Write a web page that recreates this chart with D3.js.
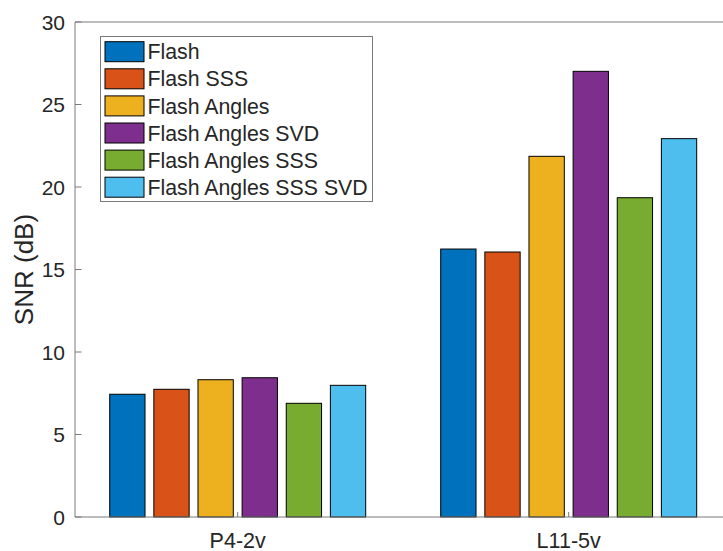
<!DOCTYPE html>
<html lang="en">
<head>
    <meta charset="UTF-8">
    <title>SNR by probe</title>
    <style>
        body { margin: 0; background: #fff; }
        svg text { font-family: "Liberation Sans", Arial, sans-serif; fill: #262626; }
        .bar { stroke: #000; stroke-width: 1px; }
        .axis-line { stroke: #7a7a7a; stroke-width: 1px; fill: none; }
    </style>
</head>
<body>
    <svg width="723" height="551"></svg>

    <script src="https://d3js.org/d3.v7.min.js"></script>
    <script>
        // data
        const probes = ["P4-2v", "L11-5v"];
        const methods = ["Flash", "Flash SSS", "Flash Angles", "Flash Angles SVD", "Flash Angles SSS", "Flash Angles SSS SVD"];
        const snrP4 = [7.44, 7.74, 8.32, 8.44, 6.89, 7.98];
        const snrL11 = [16.24, 16.06, 21.86, 27.01, 19.35, 22.93];
        const colors = ["#0072BD", "#D95319", "#EDB120", "#7E2F8E", "#77AC30", "#4DBEEE"];
        const yTicks = [0, 5, 10, 15, 20, 25, 30];

        const values = [snrP4, snrL11];

        const svg = d3.select("svg");
        const plotLeft = 75, plotTop = 22, plotBottom = 517, plotRight = 723;

        const x = d3.scaleLinear().domain([1, 2]).range([237.7, 568.7]);
        const y = d3.scaleLinear().domain([0, 30]).range([plotBottom, plotTop]);

        const pitch = 0.8 / methods.length;   // group width split into slots
        const barW = pitch * 0.8;

        // bars
        const groups = svg.append("g")
            .selectAll("g")
            .data(probes)
            .enter().append("g");

        groups.selectAll("rect")
            .data((p, gi) => values[gi].map((v, i) => ({ v, i, gi })))
            .enter().append("rect")
            .attr("class", "bar")
            .attr("x", d => x(d.gi + 1 + (d.i - 2.5) * pitch - barW / 2))
            .attr("width", d => x(barW) - x(0))
            .attr("y", d => y(d.v))
            .attr("height", d => y(0) - y(d.v))
            .attr("fill", d => colors[d.i]);

        // axes box (left, bottom, top)
        svg.append("line").attr("class", "axis-line")
            .attr("x1", plotLeft).attr("x2", plotLeft).attr("y1", plotTop).attr("y2", plotBottom);
        svg.append("line").attr("class", "axis-line")
            .attr("x1", plotLeft).attr("x2", plotRight).attr("y1", plotBottom).attr("y2", plotBottom);
        svg.append("line").attr("class", "axis-line")
            .attr("x1", plotLeft).attr("x2", plotRight).attr("y1", plotTop).attr("y2", plotTop);

        // y ticks
        const yAxis = svg.append("g");
        yAxis.selectAll("line")
            .data(yTicks)
            .enter().append("line")
            .attr("class", "axis-line")
            .attr("x1", plotLeft).attr("x2", plotLeft + 6.5)
            .attr("y1", d => y(d)).attr("y2", d => y(d));
        yAxis.selectAll("text")
            .data(yTicks)
            .enter().append("text")
            .attr("x", 65)
            .attr("y", d => y(d))
            .attr("dy", "0.36em")
            .attr("text-anchor", "end")
            .style("font-size", "21px")
            .text(d => d);

        // x ticks
        const xAxis = svg.append("g");
        xAxis.selectAll("line")
            .data(probes)
            .enter().append("line")
            .attr("class", "axis-line")
            .attr("x1", (d, i) => x(i + 1)).attr("x2", (d, i) => x(i + 1))
            .attr("y1", plotBottom).attr("y2", plotBottom - 5);
        xAxis.selectAll("text")
            .data(probes)
            .enter().append("text")
            .attr("x", (d, i) => x(i + 1))
            .attr("y", 548)
            .attr("text-anchor", "middle")
            .style("font-size", "21.5px")
            .text(d => d);

        // y label
        svg.append("text")
            .attr("transform", `translate(33, ${(plotTop + plotBottom) / 2}) rotate(-90)`)
            .attr("text-anchor", "middle")
            .style("font-size", "26px")
            .text("SNR (dB)");

        // legend
        const legend = svg.append("g");
        legend.append("rect")
            .attr("x", 100.5).attr("y", 36.5)
            .attr("width", 272).attr("height", 165)
            .attr("fill", "#fff")
            .attr("stroke", "#7a7a7a");

        const item = legend.selectAll("g")
            .data(methods)
            .enter().append("g")
            .attr("transform", (d, i) => `translate(0, ${41.7 + i * 27.1})`);
        item.append("rect")
            .attr("class", "bar")
            .attr("x", 105).attr("y", 0)
            .attr("width", 39).attr("height", 20)
            .attr("fill", (d, i) => colors[i]);
        item.append("text")
            .attr("x", 147.5)
            .attr("y", 10)
            .attr("dy", "0.36em")
            .style("font-size", "21.3px")
            .text(d => d);
    </script>
</body>
</html>
